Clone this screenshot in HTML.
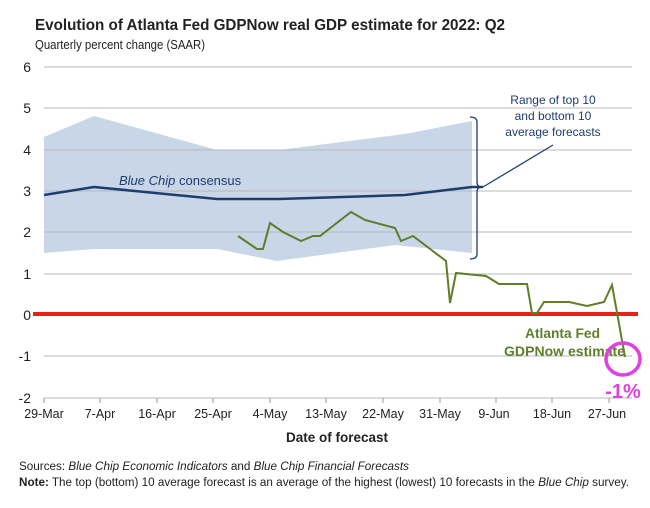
<!DOCTYPE html>
<html><head><meta charset="utf-8"><style>
html,body{margin:0;padding:0;background:#fff;}
svg{display:block;font-family:"Liberation Sans Narrow","Liberation Sans",sans-serif;}
</style></head><body>
<svg width="650" height="508" viewBox="0 0 650 508" xmlns="http://www.w3.org/2000/svg">
<text x="35" y="30" font-size="15.5" font-weight="bold" fill="#222" textLength="470" lengthAdjust="spacingAndGlyphs">Evolution of Atlanta Fed GDPNow real GDP estimate for 2022: Q2</text>
<text x="35" y="49" font-size="12.5" fill="#222" textLength="170" lengthAdjust="spacingAndGlyphs">Quarterly percent change (SAAR)</text>
<polygon points="44,137 94,116 217,150 279,150 405,134 472,121 472,253 395,245 277,261 217,249 94,249 44,253" fill="#c8d6e8"/>
<g stroke="#b8b8b8" stroke-width="1">
<line x1="44" y1="67" x2="632" y2="67"/>
<line x1="44" y1="108" x2="632" y2="108"/>
<line x1="44" y1="150" x2="632" y2="150"/>
<line x1="44" y1="191" x2="632" y2="191"/>
<line x1="44" y1="232" x2="632" y2="232"/>
<line x1="44" y1="274" x2="632" y2="274"/>
<line x1="44" y1="356" x2="632" y2="356"/>
<line x1="44" y1="398" x2="632" y2="398"/>
</g>
<g stroke="#999" stroke-width="1">
<line x1="44" y1="398" x2="44" y2="403"/><line x1="100" y1="398" x2="100" y2="403"/><line x1="157" y1="398" x2="157" y2="403"/><line x1="213" y1="398" x2="213" y2="403"/><line x1="270" y1="398" x2="270" y2="403"/><line x1="326" y1="398" x2="326" y2="403"/><line x1="383" y1="398" x2="383" y2="403"/><line x1="440" y1="398" x2="440" y2="403"/><line x1="496" y1="398" x2="496" y2="403"/><line x1="552" y1="398" x2="552" y2="403"/><line x1="609" y1="398" x2="609" y2="403"/>
</g>
<g font-size="14" fill="#222" text-anchor="end">
<text x="31" y="72">6</text><text x="31" y="113">5</text><text x="31" y="155">4</text><text x="31" y="196">3</text><text x="31" y="237">2</text><text x="31" y="279">1</text><text x="31" y="320">0</text><text x="31" y="361">-1</text><text x="31" y="403">-2</text>
</g>
<g font-size="12.5" fill="#222" text-anchor="middle">
<text x="44" y="418">29-Mar</text><text x="100" y="418">7-Apr</text><text x="157" y="418">16-Apr</text><text x="213" y="418">25-Apr</text><text x="270" y="418">4-May</text><text x="326" y="418">13-May</text><text x="383" y="418">22-May</text><text x="440" y="418">31-May</text><text x="494" y="418">9-Jun</text><text x="552" y="418">18-Jun</text><text x="607" y="418">27-Jun</text>
</g>
<text x="337" y="442" font-size="13.5" font-weight="bold" fill="#222" text-anchor="middle">Date of forecast</text>
<polyline points="44,195 94,187 217,199 279,199 405,195 472,187 483,187" fill="none" stroke="#1d3d6e" stroke-width="2.5"/>
<polyline points="483,187 553,145" fill="none" stroke="#1d3d6e" stroke-width="1.3"/>
<path d="M470,117 Q477,117 477,122 L477,182 Q477,187 482,187 Q477,187 477,192 L477,254 Q477,259 470,259" fill="none" stroke="#1d3d6e" stroke-width="1.3"/>
<text x="119" y="185" font-size="13" fill="#1d3d6e"><tspan font-style="italic">Blue Chip</tspan> consensus</text>
<g font-size="12" fill="#1d3d6e" text-anchor="middle">
<text x="553" y="104">Range of top 10</text><text x="553" y="120">and bottom 10</text><text x="553" y="136">average forecasts</text>
</g>
<line x1="33" y1="314" x2="638" y2="314" stroke="#e8201a" stroke-width="4"/>
<polyline points="238,236 257,249 263,249 270,223 283,232 301,241 313,236 320,236 351,212 365,220 395,228 401,241 413,236 446,261 450,303 456,273 486,276 499,284 527,284 532,313 537,313 544,302 569,302 587,306 604,302 612,285 625,357" fill="none" stroke="#5e7e2a" stroke-width="2"/>
<g font-size="14" font-weight="bold" fill="#5e7e2a">
<text x="525" y="338" textLength="75" lengthAdjust="spacingAndGlyphs">Atlanta Fed</text><text x="504" y="356" textLength="121" lengthAdjust="spacingAndGlyphs">GDPNow estimate</text>
</g>
<ellipse cx="623" cy="359" rx="17" ry="16" fill="none" stroke="#e040e0" stroke-width="3.5"/>
<text x="623" y="398" font-size="20" font-weight="bold" fill="#e040e0" text-anchor="middle">-1%</text>
<text x="19" y="470" font-size="11.5" fill="#222" textLength="390" lengthAdjust="spacingAndGlyphs">Sources: <tspan font-style="italic">Blue Chip Economic Indicators</tspan> and <tspan font-style="italic">Blue Chip Financial Forecasts</tspan></text>
<text x="19" y="486" font-size="11.5" fill="#222" textLength="610" lengthAdjust="spacingAndGlyphs"><tspan font-weight="bold">Note:</tspan> The top (bottom) 10 average forecast is an average of the highest (lowest) 10 forecasts in the <tspan font-style="italic">Blue Chip</tspan> survey.</text>
</svg>
</body></html>
